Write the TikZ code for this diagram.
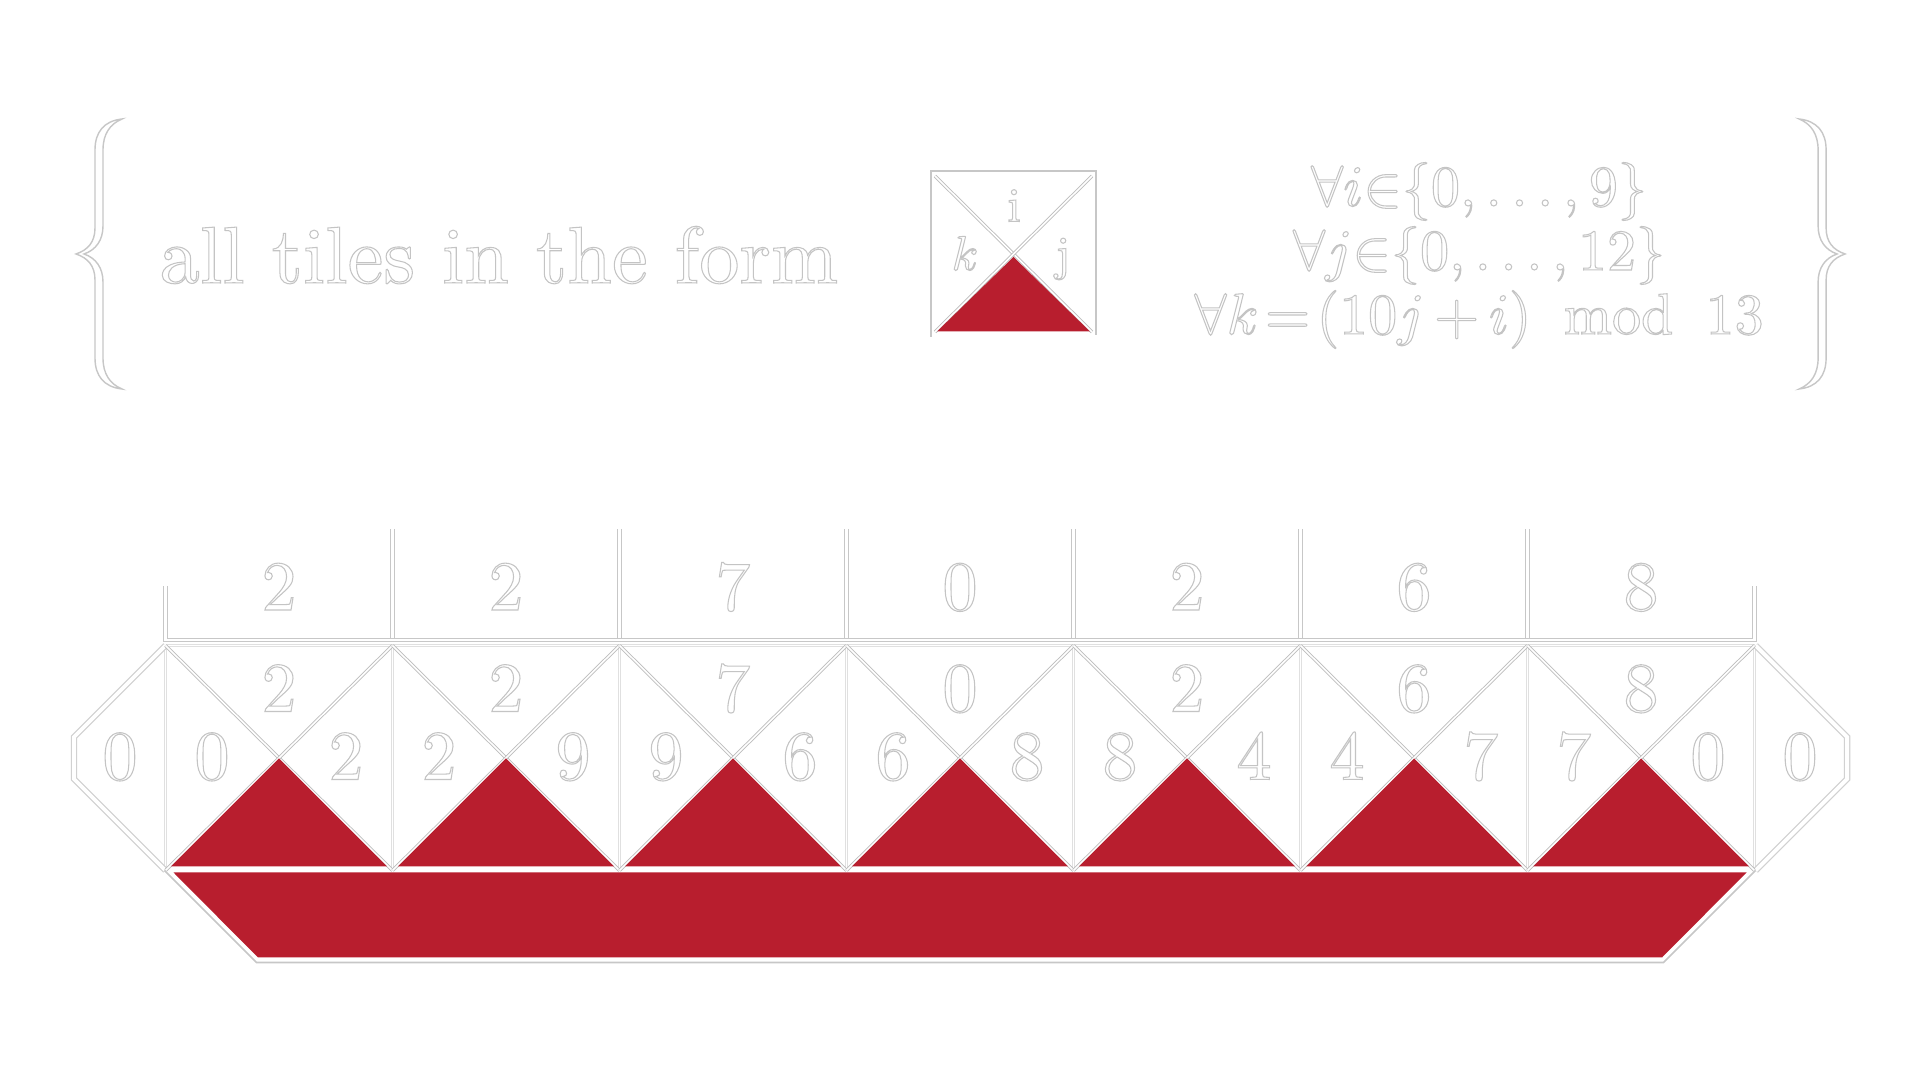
\documentclass[tikz,border=0pt]{standalone}
\usepackage{amsmath}
\usepackage{graphicx}
\usepackage{fontspec}
\definecolor{tred}{RGB}{184,30,46}
% outlined text: typeset at 10pt design size, then scaled
\newcommand\otx[2][2]{\scalebox{#1}{\color{white}\special{pdf:literal direct 2 Tr 0.77 G \fpeval{0.3/#1} w}#2\special{pdf:literal direct 0 Tr}}}
\tikzset{
  frameline/.style={draw=black!22, double=white, line width=0.3pt, double distance=0.75pt},
  diagline/.style={draw=black!26, double=white, line width=0.25pt, double distance=0.45pt},
  tileedge/.style={draw=black!12, double=white, line width=0.3pt, double distance=0.4pt},
  octline/.style={draw=black!18, double=white, line width=0.35pt, double distance=1.1pt, line join=miter},
  bartrace/.style={draw=black!22, line width=0.45pt},
  thinframe/.style={draw=black!22, line width=0.4pt},
  lbl/.style={inner sep=0pt, anchor=base, font=\fontsize{10}{12}\selectfont},
  braceshape/.style={fill=white, draw=black!22, line width=0.4pt}
}
\begin{document}
\begin{tikzpicture}[x=0.01cm, y=-0.01cm]
\fill[white] (0,0) rectangle (1920,1080);
\useasboundingbox (0,0) rectangle (1920,1080);

% ---------- braces ----------
\def\bracepath{(122,119) .. controls (104,121) and (95,132) .. (95,150) -- (95,228)
  .. controls (95,242) and (88,250) .. (76,254)
  .. controls (88,258) and (95,266) .. (95,280) -- (95,358)
  .. controls (95,376) and (104,387) .. (122,389)
  .. controls (110,384) and (103,374) .. (103,358) -- (103,282)
  .. controls (103,268) and (96,258) .. (84,254)
  .. controls (96,250) and (103,240) .. (103,226) -- (103,150)
  .. controls (103,134) and (110,124) .. (122,119) -- cycle}
\draw[braceshape] \bracepath;
\begin{scope}[shift={(19.2cm,0)}, xscale=-1]
\draw[braceshape] \bracepath;
\end{scope}

% ---------- heading ----------
\node[lbl, anchor=base west] (form) at (159,283) {\otx[2.29]{all tiles in the form}};

% small tile
\draw[thinframe] (931,337) -- (931,171) -- (1096,171) -- (1096,335);
\draw[diagline] (935,176) -- (1092,332);
\draw[diagline] (1092,176) -- (935,332);
\fill[tred] (937,331.5) -- (1013.5,257) -- (1090,331.5) -- cycle;
\node[lbl] (li) at (1014,221.5) {\otx[1.38]{i}};
\node[lbl] (lk) at (965,270) {\otx[1.38]{$k$}};
\node[lbl] (lj) at (1063,270) {\otx[1.38]{j}};

% conditions
\node[lbl] (c1) at (1479,206) {\otx[1.65]{$\forall i\mathord{\in}\{0,\ldots,9\}$}};
\node[lbl] (c2) at (1479,270) {\otx[1.65]{$\forall j\mathord{\in}\{0,\ldots,12\}$}};
\node[lbl] (c3) at (1479,334) {\otx[1.65]{$\forall k\mkern2mu\mathord{=}\mkern2mu(10j\mkern3mu\mathord{+}\mkern3mu i)\mkern10mu\mathrm{mod}\mkern10mu13$}};

% ---------- top label frame ----------
\foreach \i in {1,...,6} {
  \draw[frameline] (165.5+227*\i,529) -- (165.5+227*\i,640);
}
\draw[frameline] (165.5,586) -- (165.5,640) -- (1754.5,640) -- (1754.5,586);

% ---------- tile row ----------
\draw[tileedge] (165.5,645.5) -- (1754.5,645.5);
\foreach \i in {0,...,7} {
  \draw[tileedge] (165.5+227*\i,645.5) -- (165.5+227*\i,870.5);
}
% octagons
\draw[octline] (165.5,645.5) -- (74,737) -- (74,779) -- (165.5,870.5);
\begin{scope}[shift={(19.2cm,0)}, xscale=-1]
\draw[octline] (165.5,645.5) -- (74,737) -- (74,779) -- (165.5,870.5);
\end{scope}
\node[lbl] (oL) at (120,779.5) {\otx{0}};
\node[lbl] (oR) at (1800,779.5) {\otx{0}};

\foreach \tv/\lv/\rv [count=\n from 0] in {2/0/2, 2/2/9, 7/9/6, 0/6/8, 2/8/4, 6/4/7, 8/7/0} {
  \pgfmathsetmacro\xl{165.5+227*\n}
  \pgfmathsetmacro\xr{\xl+227}
  \pgfmathsetmacro\cx{\xl+113.5}
  \draw[diagline] (\xl,645.5) -- (\xr,870.5);
  \draw[diagline] (\xr,645.5) -- (\xl,870.5);
  \fill[tred] (\cx-108,866.5) -- (\cx,758.5) -- (\cx+108,866.5) -- cycle;
  \node[lbl] (top\n) at (\cx,610) {\otx{\tv}};
  \node[lbl] (up\n) at (\cx,711.5) {\otx{\tv}};
  \node[lbl] (lf\n) at (\cx-67,779.5) {\otx{\lv}};
  \node[lbl] (rt\n) at (\cx+67,779.5) {\otx{\rv}};
}

% ---------- bar ----------
\draw[bartrace] (164.5,870.5) -- (256.5,962.5) -- (1663.5,962.5) -- (1755.5,870.5);
\fill[tred] (173.5,872.5) -- (258,957.5) -- (1662,957.5) -- (1746.5,872.5) -- cycle;
\end{tikzpicture}
\end{document}
